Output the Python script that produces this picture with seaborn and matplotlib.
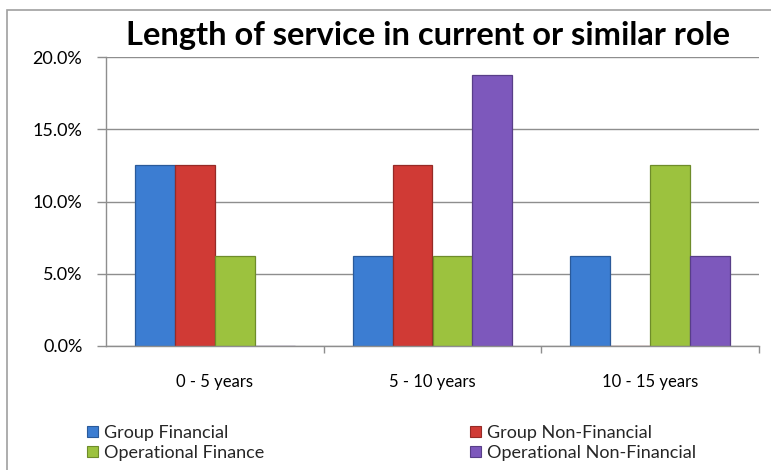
import matplotlib
matplotlib.use("Agg")
import matplotlib.pyplot as plt
from matplotlib.patches import Patch, Rectangle
from matplotlib.ticker import PercentFormatter, FixedLocator
import seaborn as sns
import pandas as pd

# Data
categories = ["0 - 5 years", "5 - 10 years", "10 - 15 years"]
series = ["Group Financial", "Group Non-Financial", "Operational Finance", "Operational Non-Financial"]
group_financial = [12.5, 6.25, 6.25]
group_non_financial = [12.5, 12.5, 0.0]
operational_finance = [6.25, 6.25, 12.5]
operational_non_financial = [0.0, 18.75, 6.25]
y_ticks = [0, 5, 10, 15, 20]

colors = ["#3C7DD2", "#D03A35", "#9CC23E", "#7D58BC"]
edge_colors = ["#2A5A9A", "#962A26", "#6E8C2A", "#583E88"]

values = [group_financial, group_non_financial, operational_finance, operational_non_financial]
rows = []
for name, vals in zip(series, values):
    for cat, v in zip(categories, vals):
        rows.append({"Category": cat, "Series": name, "Share": v})
df = pd.DataFrame(rows)

sns.set_theme(style="white")
plt.rcParams["font.family"] = ["Lato", "DejaVu Sans"]

fig = plt.figure(figsize=(7.71, 4.70), dpi=100)
ax = fig.add_axes([106 / 771, (470 - 346) / 470, (759 - 106) / 771, (346 - 57) / 470])

sns.barplot(data=df, x="Category", y="Share", hue="Series", order=categories,
            hue_order=series, palette=colors, width=0.735, ax=ax,
            saturation=1, legend=False, linewidth=1.0)

# Darker outlines per series
for container, ec in zip(ax.containers, edge_colors):
    for bar in container:
        bar.set_edgecolor(ec)
        bar.set_linewidth(0.9)

ax.set_xlim(-0.5, 2.5)
ax.set_ylim(0, 20)
ax.set_yticks(y_ticks)
ax.yaxis.set_major_formatter(PercentFormatter(decimals=1))
ax.set_xlabel("")
ax.set_ylabel("")

grid_col = "#8E8E8E"
ax.yaxis.grid(True, color=grid_col, linewidth=1.0)
ax.xaxis.grid(False)
ax.set_axisbelow(True)
for side in ["top", "right"]:
    ax.spines[side].set_visible(False)
for side in ["left", "bottom"]:
    ax.spines[side].set_color(grid_col)
    ax.spines[side].set_linewidth(1.0)

ax.tick_params(axis="y", which="major", length=6.5, width=1.0, color=grid_col,
               pad=10.5, labelsize=13, labelcolor="#000000", left=True)
ax.tick_params(axis="x", which="major", length=0, pad=20, labelsize=12, labelcolor="#000000")
ax.xaxis.set_minor_locator(FixedLocator([0.5, 1.5, 2.5]))
ax.tick_params(axis="x", which="minor", length=5, width=1.0, color=grid_col, bottom=True)

fig.text(428 / 771, 1 - 36 / 470, "Length of service in current or similar role",
         ha="center", va="center", fontsize=23.5, fontweight="bold", color="#000000")

# Legend in two columns
handles = [Patch(facecolor=c, edgecolor=e, linewidth=0.8) for c, e in zip(colors, edge_colors)]
leg_kw = dict(frameon=False, fontsize=13, handlelength=0.6, handleheight=0.6,
              handletextpad=0.35, labelspacing=0.2, borderaxespad=0, borderpad=0)
leg1 = fig.legend([handles[0], handles[2]], [series[0], series[2]], loc="upper left",
                  bbox_to_anchor=(87 / 771, 1 - 425 / 470), **leg_kw)
leg2 = fig.legend([handles[1], handles[3]], [series[1], series[3]], loc="upper left",
                  bbox_to_anchor=(470 / 771, 1 - 425 / 470), **leg_kw)

# Chart frame
fig.patches.append(Rectangle((7 / 771, -0.1), 1.2, 1 - 10 / 470 + 0.1, transform=fig.transFigure,
                             fill=False, edgecolor="#A0A0A0", linewidth=1.2))

fig.savefig("out.png", dpi=100)
